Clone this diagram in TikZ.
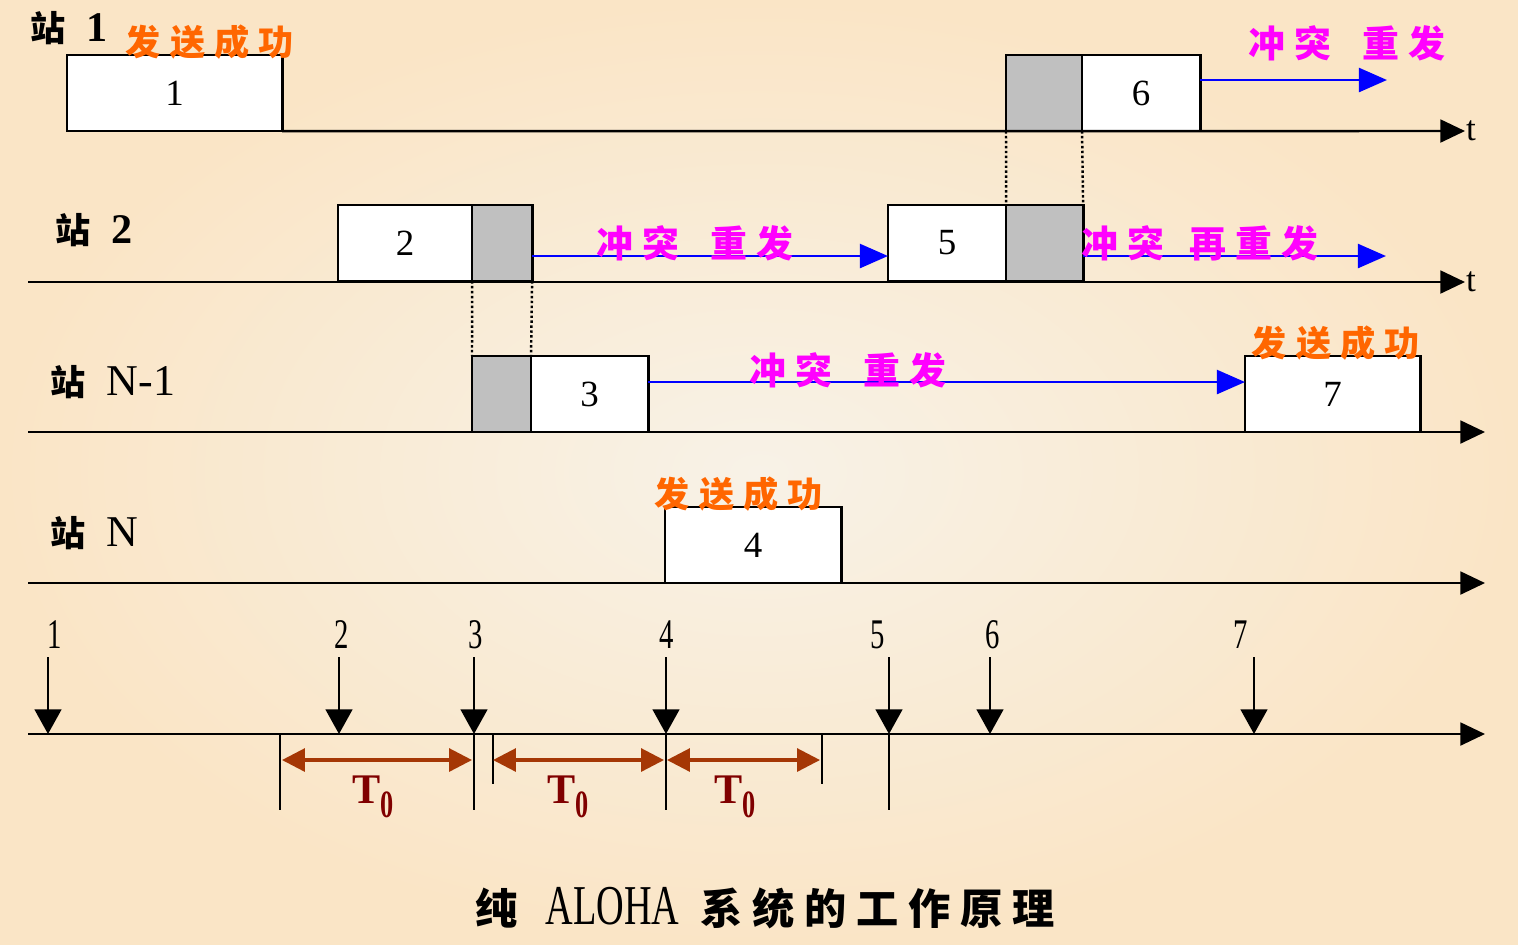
\documentclass[tikz,border=0pt]{standalone}
\usepackage{fontspec}
\setmainfont{Liberation Serif}
\newfontfamily\cjk{Noto Sans CJK SC}
\newfontfamily\narrow[FakeStretch=0.68]{Liberation Serif}
\usetikzlibrary{arrows.meta}
\definecolor{okorange}{RGB}{255,102,0}
\definecolor{clash}{RGB}{255,0,255}
\definecolor{tbrown}{RGB}{165,55,5}
\definecolor{tred}{RGB}{128,0,0}
\definecolor{slot}{RGB}{192,192,192}
\definecolor{paper}{RGB}{248,242,231}
\definecolor{peach}{RGB}{250,229,198}
\newcommand\cg{\hspace{2.6pt}}
\tikzset{
  frame/.style={draw,line width=0.8pt,fill=white,minimum height=0.76cm,inner sep=0pt,
    outer sep=0pt,anchor=north west,font=\fontsize{10.5}{12}\selectfont},
  hit/.style={frame,fill=slot},
  timeline/.style={line width=0.7pt,-{Triangle[length=7pt,width=6.5pt]}},
  retry/.style={blue,line width=0.8pt,-{Triangle[length=8pt,width=6.8pt]}},
  overlap/.style={line width=0.7pt,dash pattern=on 0.7pt off 0.7pt},
  drop/.style={line width=0.6pt,-{Triangle[length=7pt,width=7.6pt]}},
  bar/.style={line width=0.6pt},
  span/.style={tbrown,line width=0.9pt,{Triangle[length=6.5pt,width=6.5pt]}-{Triangle[length=6.5pt,width=6.5pt]}},
  tee/.style={right,inner sep=0pt,font=\fontsize{10}{12}\selectfont},
  station/.style={anchor=west,inner sep=0pt,font=\cjk\bfseries\fontsize{10}{12}\selectfont},
  okmark/.style={text=okorange,inner sep=0pt,font=\cjk\bfseries\fontsize{10}{12}\selectfont},
  clashmark/.style={text=clash,inner sep=0pt,font=\cjk\bfseries\fontsize{10.5}{12}\selectfont},
  tick/.style={inner sep=0pt,font=\narrow\fontsize{12}{14}\selectfont},
  tzero/.style={text=tred,inner sep=0pt,font=\bfseries\fontsize{12}{14}\selectfont},
}
\begin{document}
\begin{tikzpicture}[x=0.01cm,y=-0.01cm]
\useasboundingbox (0,0) rectangle (1518,944);
\shade[inner color=paper,outer color=peach] (0,0) rectangle (1518,944);
% frames on each station
\node[frame,minimum width=2.15cm] (p1) at (67,55) {1};
\node[hit,minimum width=0.76cm] (c6) at (1006,55) {};
\node[frame,minimum width=1.18cm] (p6) at (c6.north east) {6};
\node[frame,minimum width=1.34cm] (p2) at (338,205) {2};
\node[hit,minimum width=0.60cm] (c2) at (p2.north east) {};
\node[frame,minimum width=1.18cm] (p5) at (888,205) {5};
\node[hit,minimum width=0.77cm] (c5) at (p5.north east) {};
\node[hit,minimum width=0.59cm] (c3) at (472,356) {};
\node[frame,minimum width=1.17cm] (p3) at (c3.north east) {3};
\node[frame,minimum width=1.75cm] (p7) at (1245,356) {7};
\node[frame,minimum width=1.76cm] (p4) at (665,507) {4};
% time axes
\coordinate (e1) at (1465,131);
\draw[timeline] (p1.south east) -- (e1) node[tee]{t};
\coordinate (b2) at (28,282); \coordinate (e2) at (1465,282);
\draw[timeline] (b2) -- (e2) node[tee]{t};
\foreach \y/\n in {432/3,583/4,734/5}{
  \coordinate (b\n) at (28,\y); \coordinate (e\n) at (1485,\y);
  \draw[timeline] (b\n) -- (e\n);
}
% retransmissions
\coordinate (r6) at (1387,80);
\draw[retry] (p6.east |- r6) -- (r6);
\draw[retry] (c2.east |- 0,256) -- (p5.west |- 0,256);
\coordinate (r5) at (1386,256);
\draw[retry] (c5.east |- r5) -- (r5);
\draw[retry] (p3.east |- 0,382) -- (p7.west |- 0,382);
% overlapping parts
\draw[overlap] (c6.south west) -- (c5.north west);
\draw[overlap] (c6.south east) -- (c5.north east);
\draw[overlap] (c2.south west) -- (c3.north west);
\draw[overlap] (c2.south east) -- (c3.north east);
% station names
\node[station] (s1) at (30,28) {站\hspace{6pt}{\rmfamily\fontsize{12}{14}\selectfont 1}};
\node[station] (s2) at (55,230) {站\hspace{6pt}{\rmfamily\fontsize{12}{14}\selectfont 2}};
\node[station] (s3) at (50,382) {站\hspace{6pt}{\rmfamily\mdseries\fontsize{12.5}{14}\selectfont N-1}};
\node[station] (s4) at (50,533) {站\hspace{6pt}{\rmfamily\mdseries\fontsize{12.5}{14}\selectfont N}};
% remarks
\node[okmark] (ok1) at (210,42) {发\cg 送\cg 成\cg 功};
\node[okmark] (ok7) at (1336,343) {发\cg 送\cg 成\cg 功};
\node[okmark] (ok4) at (739,494) {发\cg 送\cg 成\cg 功};
\node[clashmark] (cl6) at (1347,43) {冲\cg 突\hspace{9pt}重\cg 发};
\node[clashmark] (cl2) at (695,243) {冲\cg 突\hspace{9pt}重\cg 发};
\node[clashmark] (cl5) at (1200,243) {冲\cg 突\hspace{7pt}再\cg 重\cg 发};
\node[clashmark] (cl3) at (848,370) {冲\cg 突\hspace{9pt}重\cg 发};
% arrival instants
\foreach \x/\n/\lx in {48/1/55,339/2/342,474/3/476,666/4/667,889/5/878,990/6/993,1254/7/1241}{
  \node[tick] (k\n) at (\lx,635) {\n};
  \coordinate (a\n) at (\x,734);
  \draw[drop] (a\n |- 0,657) -- (a\n);
}
\foreach \x/\y in {280/810,474/810,493/784,666/810,822/784,889/810}
  \draw[bar] (\x,734) -- (\x,\y);
% vulnerable periods
\foreach \l/\r/\c in {282/472/373,493/664/568,667/820/735}{
  \coordinate (vl\c) at (\l,760); \coordinate (vr\c) at (\r,760);
  \draw[span] (vl\c) -- (vr\c);
  \node[tzero] (tz\c) at (\c,797) {T\raisebox{-4pt}{\narrow\fontsize{11}{12}\selectfont 0}};
}
\node[inner sep=0pt,font=\cjk\bfseries\fontsize{12}{14}\selectfont] (title) at (765,908)
  {纯\hspace{8pt}{\narrow\mdseries\fontsize{16}{18}\selectfont ALOHA}\hspace{6pt}系\hspace{2.8pt}统\hspace{2.8pt}的\hspace{2.8pt}工\hspace{2.8pt}作\hspace{2.8pt}原\hspace{2.8pt}理};
\end{tikzpicture}
\end{document}
